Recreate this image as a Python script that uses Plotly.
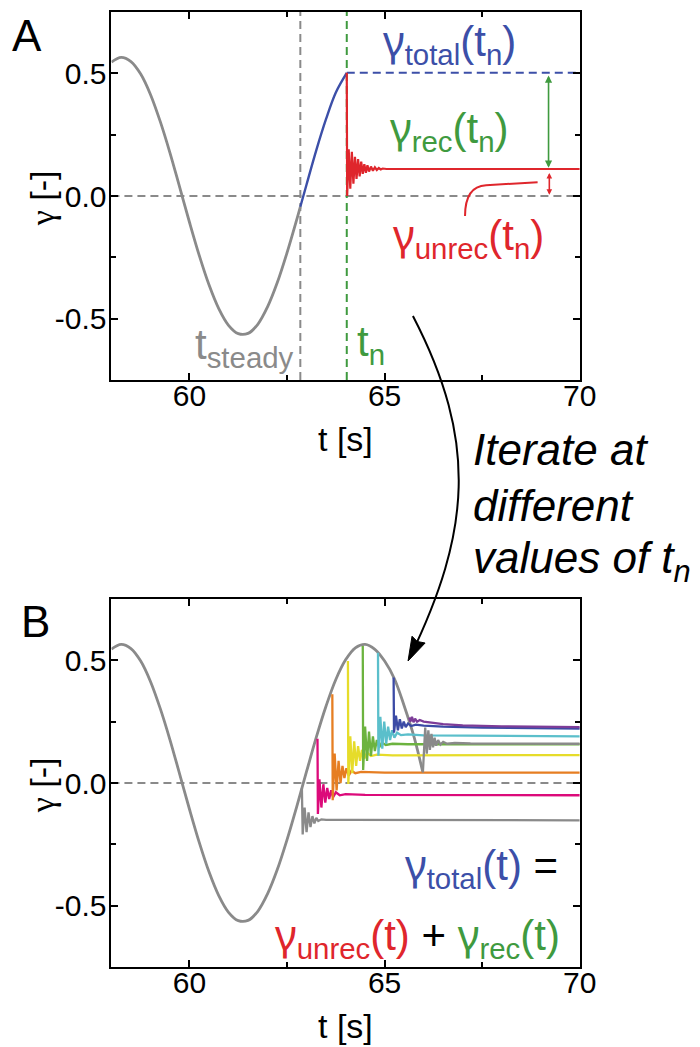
import plotly.graph_objects as go

W, H = 700, 1047
FONT = "Liberation Sans, Arial, Helvetica, sans-serif"

# ---------------- data ----------------
# Panel A
ta_gray = [58.0, 58.25, 58.5, 58.75, 59.0, 59.25, 59.5, 59.75, 60.0, 60.25, 60.5,
           60.75, 61.0, 61.25, 61.5, 61.75, 62.0, 62.25, 62.5, 62.75, 62.84]
ya_gray = [0.546, 0.565, 0.548, 0.497, 0.414, 0.304, 0.176, 0.035, -0.107, -0.242, -0.362,
           -0.459, -0.527, -0.561, -0.560, -0.523, -0.452, -0.353, -0.231, -0.095, -0.044]
ta_blue = [62.84, 63.0, 63.25, 63.5, 63.75, 64.03]
ya_blue = [-0.044, 0.047, 0.187, 0.314, 0.422, 0.502]
ta_red = [64.03, 64.04, 64.08, 64.12, 64.16, 64.20, 64.24, 64.28, 64.32, 64.36, 64.40, 64.44,
          64.48, 64.52, 64.56, 64.60, 64.65, 64.70, 64.75, 64.80, 64.85, 64.90, 64.95, 65.05, 70.0]
ya_red = [0.502, 0.0, 0.19, 0.03, 0.18, 0.05, 0.16, 0.07, 0.15, 0.08, 0.14, 0.09,
          0.13, 0.095, 0.125, 0.10, 0.12, 0.103, 0.117, 0.106, 0.114, 0.108, 0.112, 0.11, 0.11]
t_steady = 62.84
t_n = 64.03
gamma_total_n = 0.502
gamma_unrec_n = 0.11
t_arrow = 69.2

# Panel B: envelope (steady oscillation)
tb_env = [58.0, 58.25, 58.5, 58.75, 59.0, 59.25, 59.5, 59.75, 60.0, 60.25, 60.5, 60.75,
          61.0, 61.25, 61.5, 61.75, 62.0, 62.25, 62.5, 62.75, 63.0, 63.25, 63.5, 63.75,
          64.0, 64.25, 64.5, 64.75, 65.0, 65.25, 65.5, 65.75, 65.98]
yb_env = [0.546, 0.565, 0.548, 0.497, 0.414, 0.304, 0.176, 0.035, -0.107, -0.242, -0.362, -0.459,
          -0.527, -0.561, -0.560, -0.523, -0.452, -0.353, -0.231, -0.095, 0.047, 0.187, 0.314, 0.422,
          0.502, 0.551, 0.565, 0.545, 0.497, 0.425, 0.315, 0.19, 0.043]

# Panel B: recovery curves at different t_n
tb_gray1 = [62.88, 62.90, 62.95, 63.0, 63.05, 63.1, 63.15, 63.2, 63.25, 63.3, 63.38, 63.5, 64.0, 70.0]
yb_gray1 = [-0.02, -0.21, -0.10, -0.20, -0.12, -0.18, -0.135, -0.165, -0.142, -0.155, -0.148, -0.150, -0.150, -0.152]
tb_magenta = [63.28, 63.29, 63.33, 63.38, 63.43, 63.48, 63.53, 63.58, 63.63, 63.68, 63.75, 63.85, 64.0, 64.5, 70.0]
yb_magenta = [0.18, -0.126, 0.015, -0.10, -0.005, -0.08, -0.02, -0.065, -0.03, -0.058, -0.038, -0.05, -0.045, -0.048, -0.05]
tb_orange = [63.66, 63.67, 63.72, 63.77, 63.82, 63.87, 63.92, 63.97, 64.02, 64.08, 64.15, 64.25, 64.4, 65.0, 70.0]
yb_orange = [0.362, -0.07, 0.12, -0.03, 0.09, 0.0, 0.07, 0.02, 0.06, 0.03, 0.05, 0.04, 0.045, 0.042, 0.042]
tb_yellow = [64.06, 64.07, 64.12, 64.17, 64.22, 64.27, 64.32, 64.37, 64.42, 64.48, 64.55, 64.65, 64.8, 65.2, 70.0]
yb_yellow = [0.497, -0.004, 0.19, 0.04, 0.17, 0.07, 0.15, 0.09, 0.135, 0.10, 0.125, 0.11, 0.116, 0.113, 0.114]
tb_green = [64.44, 64.45, 64.50, 64.55, 64.60, 64.65, 64.70, 64.75, 64.80, 64.86, 64.93, 65.03, 65.2, 65.6, 70.0]
yb_green = [0.558, 0.053, 0.23, 0.09, 0.21, 0.11, 0.19, 0.13, 0.175, 0.145, 0.165, 0.155, 0.16, 0.158, 0.158]
tb_cyan = [64.83, 64.84, 64.89, 64.94, 64.99, 65.04, 65.09, 65.14, 65.19, 65.25, 65.32, 65.42, 65.6, 66.0, 70.0]
yb_cyan = [0.531, 0.111, 0.27, 0.14, 0.25, 0.16, 0.23, 0.175, 0.215, 0.185, 0.205, 0.195, 0.198, 0.194, 0.19]
tb_blue = [65.23, 65.24, 65.29, 65.34, 65.39, 65.44, 65.49, 65.54, 65.6, 65.68, 65.8, 66.0, 66.5, 67.5, 70.0]
yb_blue = [0.43, 0.205, 0.275, 0.215, 0.26, 0.222, 0.25, 0.228, 0.243, 0.232, 0.238, 0.234, 0.23, 0.226, 0.222]
tb_purple = [65.63, 65.66, 65.70, 65.74, 65.78, 65.83, 65.9, 66.0, 66.2, 66.5, 67.0, 68.0, 70.0]
yb_purple = [0.267, 0.25, 0.27, 0.248, 0.262, 0.25, 0.257, 0.25, 0.246, 0.24, 0.235, 0.231, 0.228]
tb_gray2 = [65.98, 66.04, 66.08, 66.12, 66.16, 66.2, 66.24, 66.28, 66.32, 66.37, 66.43, 66.5, 66.6, 66.8, 67.2, 70.0]
yb_gray2 = [0.043, 0.226, 0.12, 0.215, 0.135, 0.2, 0.145, 0.185, 0.152, 0.175, 0.157, 0.168, 0.16, 0.163, 0.161, 0.16]

x_range = [58, 70]
y_range = [-0.75, 0.75]
x_tick_vals = [60, 65, 70]
x_tick_text = ["60", "65", "70"]
x_minor_vals = [62.5, 67.5]
y_tick_vals = [-0.5, 0.0, 0.5]
y_tick_text = ["-0.5", "0.0", "0.5"]
y_minor_vals = [-0.25, 0.25]

# ---------------- colours ----------------
C_GRAY = "#8a8a8a"
C_BLUE = "#3c4fa8"
C_RED = "#df262c"
C_GREEN = "#3f9a3f"
C_MAG = "#dc0a7a"
C_ORA = "#e67e22"
C_YEL = "#e6dc2a"
C_GRN2 = "#6cb33f"
C_CYAN = "#5bbfcb"
C_BLU2 = "#3b4aa5"
C_PUR = "#7d3c98"


def px(X):
    return X / W


def py(Y):
    return 1 - Y / H


fig = go.Figure()


def line(x, y, color, width=2.0, axis="A", shape="linear", dash=None):
    xa, ya = ("x", "y") if axis == "A" else ("x2", "y2")
    fig.add_trace(go.Scatter(x=x, y=y, mode="lines", xaxis=xa, yaxis=ya,
                             line=dict(color=color, width=width, shape=shape, dash=dash),
                             hoverinfo="skip", showlegend=False))


DASH = "8px,5px"
# Panel A reference lines
line(x_range, [0, 0], C_GRAY, 2, "A", dash=DASH)
line([t_steady, t_steady], y_range, C_GRAY, 2, "A", dash=DASH)
line([t_n, t_n], y_range, C_GREEN, 2, "A", dash=DASH)
line([t_n, x_range[1]], [gamma_total_n, gamma_total_n], C_BLUE, 2, "A", dash=DASH)
# Panel A curves
line(ta_gray, ya_gray, C_GRAY, 2.8, "A", shape="spline")
line(ta_blue, ya_blue, C_BLUE, 2.4, "A", shape="spline")
line(ta_red, ya_red, C_RED, 2.2, "A")

# Panel B
line(x_range, [0, 0], C_GRAY, 2, "B", dash=DASH)
line(tb_env, yb_env, C_GRAY, 2.8, "B", shape="spline")
for tx, ty, c in [(tb_gray1, yb_gray1, C_GRAY), (tb_magenta, yb_magenta, C_MAG),
                  (tb_orange, yb_orange, C_ORA), (tb_yellow, yb_yellow, C_YEL),
                  (tb_green, yb_green, C_GRN2), (tb_cyan, yb_cyan, C_CYAN),
                  (tb_blue, yb_blue, C_BLU2), (tb_purple, yb_purple, C_PUR),
                  (tb_gray2, yb_gray2, C_GRAY)]:
    line(tx, ty, c, 2.3, "B")

axis_common = dict(showgrid=False, zeroline=False, showline=True, linewidth=2, linecolor="black",
                   mirror="allticks", ticks="inside", ticklen=7, tickwidth=2, tickcolor="black",
                   tickfont=dict(family=FONT, size=30, color="black"))

xdom = [106 / W, 586 / W]
yA = [1 - 372 / H, 1 - 4 / H]
yB = [1 - 959 / H, 1 - 591 / H]


def minor(vals):
    return dict(tickvals=vals, ticks="inside", ticklen=5, tickwidth=1.5, tickcolor="black")


fig.update_layout(
    width=W, height=H, margin=dict(l=0, r=0, t=0, b=0),
    paper_bgcolor="white", plot_bgcolor="white", showlegend=False,
    font=dict(family=FONT, color="black"),
    xaxis=dict(domain=xdom, anchor="y", range=x_range, tickmode="array", tickvals=x_tick_vals,
               ticktext=x_tick_text, minor=minor(x_minor_vals), ticklabelstandoff=-12, **axis_common),
    yaxis=dict(domain=yA, anchor="x", range=y_range, tickmode="array", tickvals=y_tick_vals,
               ticktext=y_tick_text, minor=minor(y_minor_vals), ticklabelstandoff=-3, **axis_common),
    xaxis2=dict(domain=xdom, anchor="y2", range=x_range, tickmode="array", tickvals=x_tick_vals,
                ticktext=x_tick_text, minor=minor(x_minor_vals), ticklabelstandoff=-12, **axis_common),
    yaxis2=dict(domain=yB, anchor="x2", range=y_range, tickmode="array", tickvals=y_tick_vals,
                ticktext=y_tick_text, minor=minor(y_minor_vals), ticklabelstandoff=-3, **axis_common),
)

ann = []


def text(X, Y, s, size=42, color="black", xanchor="center", yanchor="middle", angle=0, italic=False,
         family=FONT):
    ann.append(dict(x=px(X), y=py(Y), xref="paper", yref="paper", text=s, showarrow=False,
                    xanchor=xanchor, yanchor=yanchor, textangle=angle,
                    font=dict(family=family, size=size, color=color,
                              style="italic" if italic else "normal")))


G = '<span style="font-family:\'Noto Sans\'">γ</span>'
GS = '<span style="font-family:\'Liberation Serif\'">γ</span>'

# panel letters
text(19, 28, "A", 44)
text(28, 613, "B", 44)
# axis titles
text(346, 431, "t [s]", 34)
text(346, 1018, "t [s]", 34)
text(35, 190, GS + " [-]", 34, angle=-90)
text(35, 777, GS + " [-]", 34, angle=-90)
# panel A labels
text(453, 33, G + "<sub>total</sub>(t<sub>n</sub>)", 42, C_BLUE)
text(452, 120, G + "<sub>rec</sub>(t<sub>n</sub>)", 42, C_GREEN)
text(472, 227, G + "<sub>unrec</sub>(t<sub>n</sub>)", 42, C_RED)
text(242, 340, "t<sub>steady</sub>", 42, C_GRAY)
text(356, 337, "t<sub>n</sub>", 42, C_GREEN, xanchor="left")
# iterate text
text(475, 442, "Iterate at", 44, xanchor="left", italic=True)
text(475, 497, "different", 44, xanchor="left", italic=True)
text(475, 553, "values of t<sub>n</sub>", 44, xanchor="left", italic=True)
# panel B equation
text(566, 857, '<span style="color:%s">%s<sub>total</sub>(t)</span> =' % (C_BLUE, G), 42, xanchor="right")
text(568, 927, '<span style="color:%s">%s<sub>unrec</sub>(t)</span> + <span style="color:%s">%s<sub>rec</sub>(t)</span>'
     % (C_RED, G, C_GREEN, G), 42, xanchor="right")

# double arrows in panel A
ann.append(dict(x=t_arrow, y=gamma_unrec_n + 0.005, ax=t_arrow, ay=gamma_total_n - 0.005,
                xref="x", yref="y", axref="x", ayref="y", text="", showarrow=True,
                arrowhead=2, arrowside="end+start", arrowsize=0.9, arrowwidth=1.6, arrowcolor=C_GREEN))
ann.append(dict(x=t_arrow + 0.02, y=0.005, ax=t_arrow + 0.02, ay=gamma_unrec_n - 0.01,
                xref="x", yref="y", axref="x", ayref="y", text="", showarrow=True,
                arrowhead=2, arrowside="end+start", arrowsize=0.7, arrowwidth=1.6, arrowcolor=C_RED))
fig.update_layout(annotations=ann)

shapes = []
# red hook connecting label to the unrecoverable strain
shapes.append(dict(type="path", xref="x", yref="y",
                   path="M 67.06,-0.082 Q 67.06,0.04 67.6,0.044 L 68.92,0.056",
                   line=dict(color=C_RED, width=2)))
# big curved arrow between panels (figure pixel positions -> paper)
P0, P1, P2, P3 = (415, 308), (482, 434), (474, 524), (412, 649)
shapes.append(dict(type="path", xref="paper", yref="paper",
                   path="M %f,%f C %f,%f %f,%f %f,%f" % (px(P0[0]), py(P0[1]), px(P1[0]), py(P1[1]),
                                                        px(P2[0]), py(P2[1]), px(P3[0]), py(P3[1])),
                   line=dict(color="black", width=2)))
tip, b1, b2, bc = (410, 653), (427.5, 635.0), (414.1, 628.2), (419.5, 633.5)
shapes.append(dict(type="path", xref="paper", yref="paper",
                   path="M %f,%f L %f,%f L %f,%f L %f,%f Z" % (px(tip[0]), py(tip[1]), px(b1[0]), py(b1[1]),
                                                              px(bc[0]), py(bc[1]), px(b2[0]), py(b2[1])),
                   fillcolor="black", line=dict(color="black", width=1)))
fig.update_layout(shapes=shapes)

fig.write_html("out.html")
